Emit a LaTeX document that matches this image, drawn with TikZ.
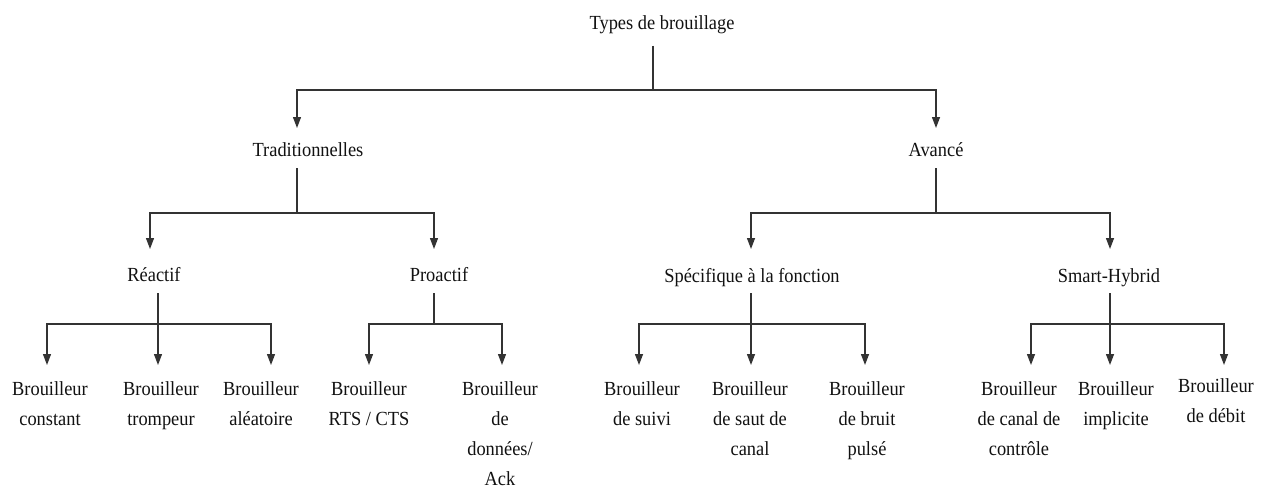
\documentclass[tikz,border=0pt]{standalone}
\usepackage{fontspec}
\setmainfont{Liberation Serif}[FakeStretch=0.92]
\usetikzlibrary{arrows.meta}
\definecolor{linegray}{HTML}{333333}
\definecolor{inkblack}{HTML}{111111}
\tikzset{
  lbl/.style={inner sep=0pt, align=center, text=inkblack,
              font=\fontsize{20}{30}\selectfont},
  head/.style={lbl, anchor=base},
  leaf/.style={lbl, anchor=north},
  link/.style={draw=linegray, line width=1.3pt},
  arr/.style={link, -{Triangle[length=11pt,width=8pt]}}
}
\begin{document}
\begin{tikzpicture}[x=1pt, y=-1pt]
\useasboundingbox (0,0) rectangle (1270,487);

% ---- labels ----
\node[head] (root)  at (662,30)  {Types de brouillage};
\node[head] (trad)  at (308,157) {Traditionnelles};
\node[head] (avan)  at (936,157) {Avancé};
\node[head] (reac)  at (154,281) {Réactif};
\node[head] (proa)  at (439,281) {Proactif};
\node[head] (spec)  at (752,282) {Spécifique à la fonction};
\node[head] (smart) at (1109,282) {Smart-Hybrid};

\node[leaf] (l1)  at (50,381)   {Brouilleur\\constant};
\node[leaf] (l2)  at (161,381)  {Brouilleur\\trompeur};
\node[leaf] (l3)  at (261,381)  {Brouilleur\\aléatoire};
\node[leaf] (l4)  at (369,381)  {Brouilleur\\RTS / CTS};
\node[leaf] (l5)  at (500,381)  {Brouilleur\\de\\données/\\Ack};
\node[leaf] (l6)  at (642,381)  {Brouilleur\\de suivi};
\node[leaf] (l7)  at (750,381)  {Brouilleur\\de saut de\\canal};
\node[leaf] (l8)  at (867,381)  {Brouilleur\\de bruit\\pulsé};
\node[leaf] (l9)  at (1019,381) {Brouilleur\\de canal de\\contrôle};
\node[leaf] (l10) at (1116,381) {Brouilleur\\implicite};
\node[leaf] (l11) at (1216,378) {Brouilleur\\de débit};

% ---- stem tops below each parent ----
\coordinate (root-s)  at (653,46);
\coordinate (trad-s)  at (297,168);
\coordinate (avan-s)  at (936,168);
\coordinate (reac-s)  at (158,293);
\coordinate (proa-s)  at (434,293);
\coordinate (spec-s)  at (751,293);
\coordinate (smart-s) at (1110,293);

% ---- arrow tips above each child ----
\coordinate (trad-t)  at (297,128);
\coordinate (avan-t)  at (936,128);
\coordinate (reac-t)  at (150,249);
\coordinate (proa-t)  at (434,249);
\coordinate (spec-t)  at (751,249);
\coordinate (smart-t) at (1110,249);
\coordinate (l1-t)  at (47,365);
\coordinate (l2-t)  at (158,365);
\coordinate (l3-t)  at (271,365);
\coordinate (l4-t)  at (369,365);
\coordinate (l5-t)  at (502,365);
\coordinate (l6-t)  at (639,365);
\coordinate (l7-t)  at (751,365);
\coordinate (l8-t)  at (865,365);
\coordinate (l9-t)  at (1031,365);
\coordinate (l10-t) at (1110,365);
\coordinate (l11-t) at (1224,365);

% ---- level 1 ----
\draw[arr] (root-s) -- ++(0,44) -| (trad-t);
\draw[arr] (root-s) -- ++(0,44) -| (avan-t);

% ---- level 2 ----
\draw[arr] (trad-s) -- ++(0,45) -| (reac-t);
\draw[arr] (trad-s) -- ++(0,45) -| (proa-t);
\draw[arr] (avan-s) -- ++(0,45) -| (spec-t);
\draw[arr] (avan-s) -- ++(0,45) -| (smart-t);

% ---- level 3 ----
\draw[arr] (reac-s) -- ++(0,31) -| (l1-t);
\draw[arr] (reac-s) -- (l2-t);
\draw[arr] (reac-s) -- ++(0,31) -| (l3-t);
\draw[arr] (proa-s) -- ++(0,31) -| (l4-t);
\draw[arr] (proa-s) -- ++(0,31) -| (l5-t);
\draw[arr] (spec-s) -- ++(0,31) -| (l6-t);
\draw[arr] (spec-s) -- (l7-t);
\draw[arr] (spec-s) -- ++(0,31) -| (l8-t);
\draw[arr] (smart-s) -- ++(0,31) -| (l9-t);
\draw[arr] (smart-s) -- (l10-t);
\draw[arr] (smart-s) -- ++(0,31) -| (l11-t);
\end{tikzpicture}
\end{document}
